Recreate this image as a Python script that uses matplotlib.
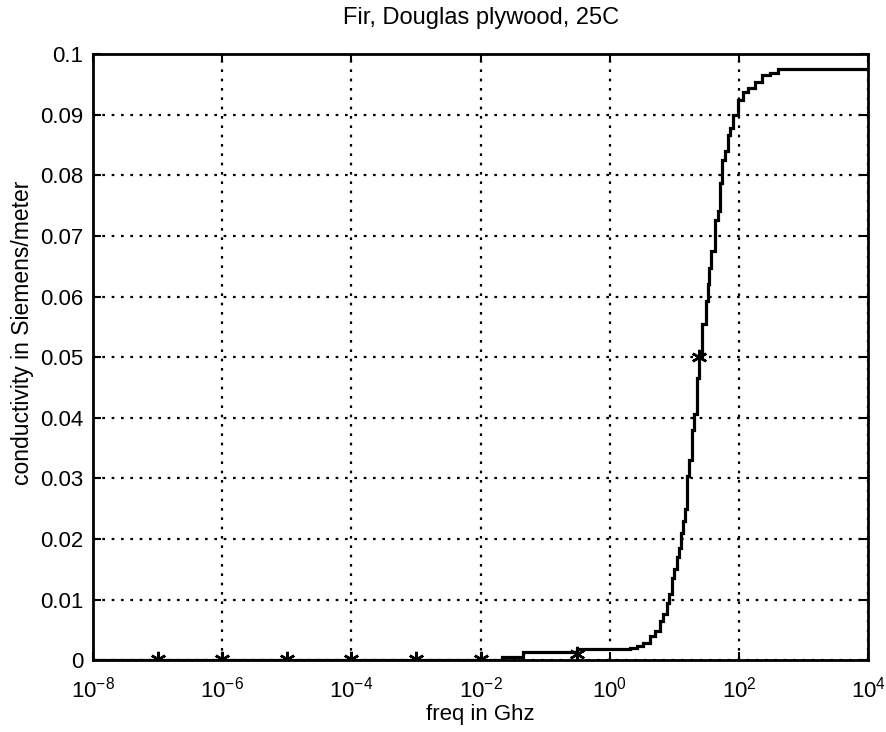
import matplotlib
matplotlib.use("Agg")
import matplotlib.pyplot as plt
from matplotlib.ticker import FixedLocator, FuncFormatter, NullLocator

plt.rcParams["font.family"] = ["Liberation Sans", "DejaVu Sans"]
plt.rcParams["mathtext.fontset"] = "custom"
plt.rcParams["mathtext.rm"] = "Liberation Sans"
plt.rcParams["mathtext.it"] = "Liberation Sans:italic"
plt.rcParams["mathtext.bf"] = "Liberation Sans:bold"

# Model conductivity curve (staircase), frequency in GHz
freq_ghz = [1e-8, 0.0214, 0.0453, 0.31, 1.91, 2.06, 2.64, 3.27, 4.19, 5.01,
            5.99, 6.66, 7.68, 8.25, 9.18, 9.86, 10.97, 11.8, 12.6, 13.6,
            14.6, 15.7, 16.8, 18.7, 20.1, 22.4, 24.0, 26.7, 30.8, 33.1,
            34.4, 36.9, 42.5, 47.3, 50.8, 54.6, 60.7, 67.6, 72.6, 80.7,
            96.5, 115, 138, 177, 227, 302, 402, 1e4]
sigma = [0.0001, 0.0005, 0.0013, 0.0018, 0.0018, 0.0020, 0.0023, 0.0028, 0.0040, 0.0048,
         0.0064, 0.0076, 0.0094, 0.0110, 0.0136, 0.0150, 0.0170, 0.0185, 0.0210, 0.0230,
         0.0250, 0.0304, 0.0330, 0.0380, 0.0407, 0.0466, 0.0500, 0.0555, 0.0593, 0.0620,
         0.0648, 0.0676, 0.0726, 0.0742, 0.0787, 0.0825, 0.0841, 0.0866, 0.0878, 0.0899,
         0.0924, 0.0937, 0.0945, 0.0954, 0.0965, 0.0969, 0.0975, 0.0975]

# Measured points
meas_freq = [1e-7, 1e-6, 1e-5, 1e-4, 1e-3, 1e-2, 0.31, 24.0]
meas_sigma = [0.0002, 0.0002, 0.0002, 0.0002, 0.0002, 0.0002, 0.0011, 0.0500]

x_ticks = [1e-8, 1e-6, 1e-4, 1e-2, 1e0, 1e2, 1e4]
y_ticks = [0, 0.01, 0.02, 0.03, 0.04, 0.05, 0.06, 0.07, 0.08, 0.09, 0.1]

fig = plt.figure(figsize=(8.86, 7.32), dpi=100)
ax = fig.add_axes([0.105, 0.098, 0.875, 0.828])

ax.plot(freq_ghz, sigma, color="black", lw=2.3, drawstyle="steps-post",
        solid_joinstyle="miter")
ax.plot(meas_freq, meas_sigma, linestyle="none", marker=(6, 2, 0),
        markersize=11, markeredgewidth=1.8, color="black")

ax.set_xscale("log")
ax.set_xlim(1e-8, 1e4)
ax.set_ylim(0, 0.1)
ax.xaxis.set_major_locator(FixedLocator(x_ticks))
ax.xaxis.set_minor_locator(NullLocator())
ax.yaxis.set_major_locator(FixedLocator(y_ticks))
ax.yaxis.set_major_formatter(FuncFormatter(lambda v, p: "%g" % v))

ax.grid(True, which="major", color="black", linestyle=(0, (1.2, 3.0)), linewidth=1.6)
ax.tick_params(direction="in", length=6, width=1.5, labelsize=16,
               top=True, right=True)
ax.tick_params(axis="x", pad=12)
ax.tick_params(axis="y", pad=7)
for s in ax.spines.values():
    s.set_linewidth(2.0)

ax.set_title("Fir, Douglas plywood, 25C", fontsize=17, pad=22)
ax.set_xlabel("freq in Ghz", fontsize=16, labelpad=1)
ax.set_ylabel("conductivity in Siemens/meter", fontsize=16.5)
ax.yaxis.set_label_coords(-0.076, 0.54)

fig.savefig("out.png", dpi=100)
